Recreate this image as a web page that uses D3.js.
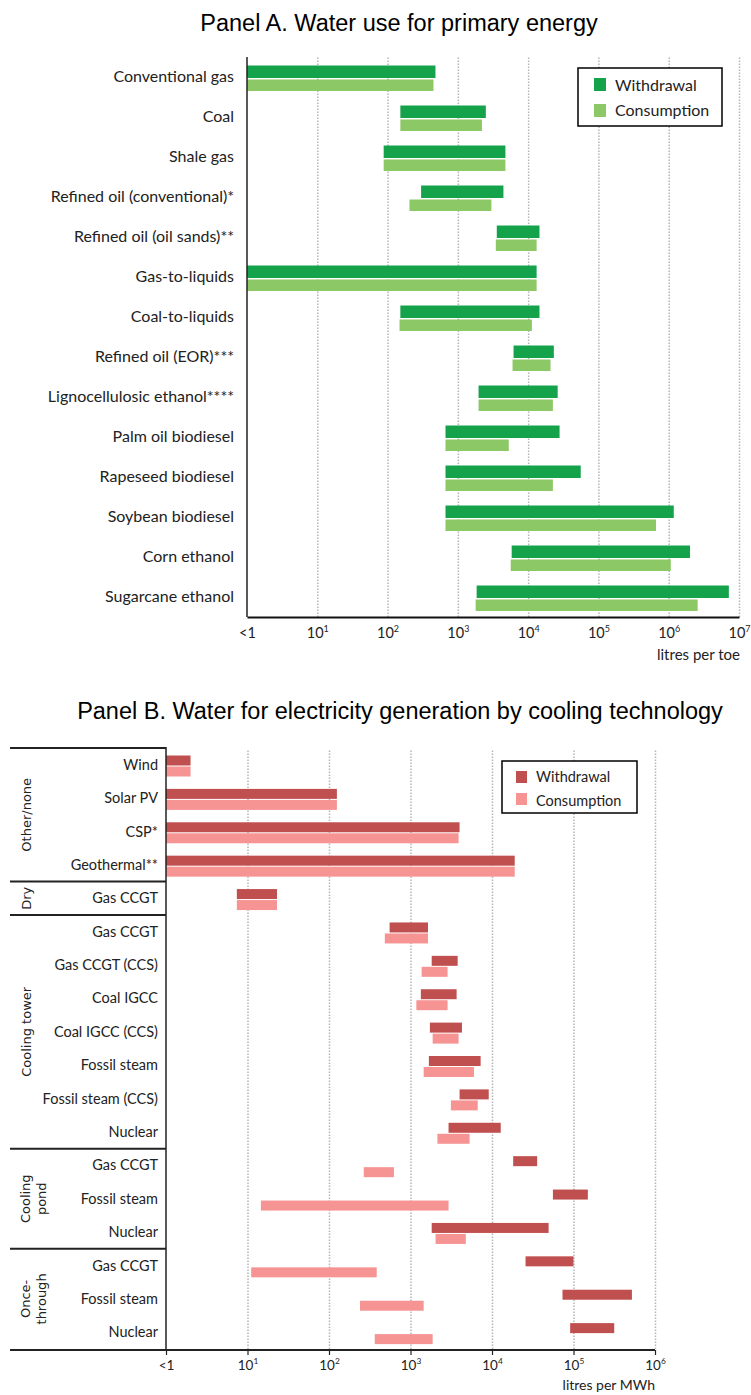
<!DOCTYPE html>
<html>
<head>
<meta charset="utf-8">
<script src="https://cdn.jsdelivr.net/npm/d3@7"></script>
<style>
  body { margin: 0; background: #fff; }
  svg { display: block; }
  text { fill: #222; }
</style>
</head>
<body>
<svg id="chart" width="751" height="1395"></svg>
<script>
// ---- Panel A data (litres per toe, [low, high]; 1 = "<1") ----
const aCategories = [
  'Conventional gas', 'Coal', 'Shale gas', 'Refined oil (conventional)*',
  'Refined oil (oil sands)**', 'Gas-to-liquids', 'Coal-to-liquids',
  'Refined oil (EOR)***', 'Lignocellulosic ethanol****', 'Palm oil biodiesel',
  'Rapeseed biodiesel', 'Soybean biodiesel', 'Corn ethanol', 'Sugarcane ethanol'
];
const aWithdrawal = [
  [1, 480], [152, 2500], [88, 4750], [300, 4450], [3580, 14500], [1, 13200],
  [152, 14500], [6200, 23200], [1970, 26300], [667, 28000], [667, 56000],
  [667, 1180000], [5830, 2010000], [1850, 7170000]
];
const aConsumption = [
  [1, 450], [152, 2200], [88, 4750], [205, 3000], [3470, 13200], [1, 13200],
  [148, 11300], [6000, 20800], [1970, 22500], [667, 5300], [667, 22500],
  [667, 659000], [5650, 1070000], [1790, 2580000]
];
const aTicks = [1, 1e1, 1e2, 1e3, 1e4, 1e5, 1e6, 1e7];

// ---- Panel B data (litres per MWh) ----
const bLabels = [
  'Wind', 'Solar PV', 'CSP*', 'Geothermal**',
  'Gas CCGT',
  'Gas CCGT', 'Gas CCGT (CCS)', 'Coal IGCC', 'Coal IGCC (CCS)', 'Fossil steam', 'Fossil steam (CCS)', 'Nuclear',
  'Gas CCGT', 'Fossil steam', 'Nuclear',
  'Gas CCGT', 'Fossil steam', 'Nuclear'
];
const bGroupOf = [0, 0, 0, 0, 1, 2, 2, 2, 2, 2, 2, 2, 3, 3, 3, 4, 4, 4];
const bGroupNames = [['Other/none'], ['Dry'], ['Cooling tower'], ['Cooling', 'pond'], ['Once-', 'through']];
const bWithdrawal = [
  [1, 2], [1, 125], [1, 4000], [1, 19000],
  [7.4, 23],
  [554, 1640], [1820, 3790], [1340, 3680], [1730, 4280], [1680, 7250], [4000, 9120], [2930, 12800],
  [18200, 35800], [55900, 150000], [1820, 49500],
  [25800, 100000], [73300, 521000], [91000, 316000]
];
const bConsumption = [
  [1, 2], [1, 125], [1, 3890], [1, 19000],
  [7.4, 23],
  [484, 1640], [1370, 2850], [1180, 2850], [1870, 3890], [1450, 6000], [3130, 6680], [2140, 5310],
  [267, 626], [14.6, 2930], [2030, 4770],
  [11.1, 385], [240, 1450], [364, 1870]
];
const bTicks = [1, 1e1, 1e2, 1e3, 1e4, 1e5, 1e6];

const svg = d3.select('#chart');
const bodyFont = 'Lato, "Open Sans", sans-serif';
const titleFont = 'Arial, "Liberation Sans", sans-serif';

// tick label with superscript exponent
const powerLabel = (sel, size) => {
  sel.each(function (d) {
    const t = d3.select(this);
    if (d === 1) { t.text('<1'); return; }
    t.append('tspan').text('10');
    t.append('tspan').attr('dy', -6).attr('font-size', size * 0.62).text(Math.round(Math.log10(d)));
  });
};

// ================= Panel A =================
{
  const top = 57, bottom = 617, left = 247, right = 739;
  const x = d3.scaleLog().domain([1, 1e7]).range([left, right]);
  const y = d3.scaleBand().domain(aCategories).range([top, bottom]);

  svg.append('text')
    .attr('x', 399).attr('y', 31)
    .attr('text-anchor', 'middle')
    .attr('font-family', titleFont)
    .attr('font-size', 23.5)
    .style('fill', '#000')
    .text('Panel A. Water use for primary energy');

  const grid = svg.append('g')
    .attr('transform', `translate(0,${ bottom })`)
    .call(d3.axisBottom(x).tickValues(aTicks.slice(1)).tickSize(-(bottom - top)).tickFormat(''));
  grid.select('.domain').remove();
  grid.selectAll('line').attr('stroke', '#b5b5b5').attr('stroke-width', 1.5).attr('stroke-dasharray', '1.5,1.5');

  const rows = svg.append('g');
  rows.selectAll('.w').data(aCategories).join('rect')
    .attr('x', (d, i) => x(aWithdrawal[i][0]))
    .attr('width', (d, i) => x(aWithdrawal[i][1]) - x(aWithdrawal[i][0]))
    .attr('y', d => y(d) + 8.5).attr('height', 12.5)
    .attr('fill', '#14a24b');
  rows.selectAll('.c').data(aCategories).join('rect')
    .attr('x', (d, i) => x(aConsumption[i][0]))
    .attr('width', (d, i) => x(aConsumption[i][1]) - x(aConsumption[i][0]))
    .attr('y', d => y(d) + 22.5).attr('height', 11.5)
    .attr('fill', '#8cc865');

  rows.selectAll('.lab').data(aCategories).join('text')
    .attr('x', left - 13).attr('y', d => y(d) + y.bandwidth() / 2 - 1)
    .attr('dy', '0.35em').attr('text-anchor', 'end')
    .attr('font-family', bodyFont).attr('font-size', 16)
    .text(d => d);

  svg.append('line').attr('x1', left).attr('x2', left).attr('y1', top).attr('y2', bottom)
    .attr('stroke', '#222').attr('stroke-width', 1.5);

  const axis = svg.append('g')
    .attr('transform', `translate(0,${ bottom })`)
    .call(d3.axisBottom(x).tickValues(aTicks).tickSize(0).tickFormat(''));
  axis.select('.domain').attr('stroke', '#111').attr('stroke-width', 2);
  axis.selectAll('.tick').append('text')
    .attr('y', 21).attr('text-anchor', 'middle')
    .attr('font-family', bodyFont).attr('font-size', 14.5)
    .call(powerLabel, 14.5);

  svg.append('text').attr('x', right + 1).attr('y', 660).attr('text-anchor', 'end')
    .attr('font-family', bodyFont).attr('font-size', 15).text('litres per toe');

  const lg = svg.append('g');
  lg.append('rect').attr('x', 578).attr('y', 68).attr('width', 144).attr('height', 58)
    .attr('fill', '#fff').attr('stroke', '#000').attr('stroke-width', 1.5);
  [['Withdrawal', '#14a24b'], ['Consumption', '#8cc865']].forEach(([name, col], i) => {
    lg.append('rect').attr('x', 594).attr('y', 78 + i * 26).attr('width', 12).attr('height', 13).attr('fill', col);
    lg.append('text').attr('x', 615).attr('y', 85 + i * 25).attr('dy', '0.35em')
      .attr('font-family', bodyFont).attr('font-size', 16).text(name);
  });
}

// ================= Panel B =================
{
  const top = 748, bottom = 1349, left = 166, right = 655, edge = 10;
  const x = d3.scaleLog().domain([1, 1e6]).range([left, right]);
  const y = d3.scaleBand().domain(d3.range(bLabels.length)).range([top, bottom]);

  svg.append('text')
    .attr('x', 400).attr('y', 719)
    .attr('text-anchor', 'middle')
    .attr('font-family', titleFont)
    .attr('font-size', 23.5)
    .style('fill', '#000')
    .text('Panel B. Water for electricity generation by cooling technology');

  const grid = svg.append('g')
    .attr('transform', `translate(0,${ bottom })`)
    .call(d3.axisBottom(x).tickValues(bTicks.slice(1)).tickSize(-(bottom - top - 2)).tickFormat(''));
  grid.select('.domain').remove();
  grid.selectAll('line').attr('stroke', '#b5b5b5').attr('stroke-width', 1.5).attr('stroke-dasharray', '1.5,1.5');

  const rows = svg.append('g');
  rows.selectAll('.w').data(bLabels).join('rect')
    .attr('x', (d, i) => x(bWithdrawal[i][0]))
    .attr('width', (d, i) => x(bWithdrawal[i][1]) - x(bWithdrawal[i][0]))
    .attr('y', (d, i) => y(i) + 7.5).attr('height', 10)
    .attr('fill', '#c0504f');
  rows.selectAll('.c').data(bLabels).join('rect')
    .attr('x', (d, i) => x(bConsumption[i][0]))
    .attr('width', (d, i) => x(bConsumption[i][1]) - x(bConsumption[i][0]))
    .attr('y', (d, i) => y(i) + 18.5).attr('height', 10)
    .attr('fill', '#f69494');

  rows.selectAll('.lab').data(bLabels).join('text')
    .attr('x', left - 8).attr('y', (d, i) => y(i) + y.bandwidth() / 2)
    .attr('dy', '0.35em').attr('text-anchor', 'end')
    .attr('font-family', bodyFont).attr('font-size', 14.5)
    .text(d => d);

  // group labels and separators
  const groups = bGroupNames.map((lines, g) => {
    const idx = bGroupOf.map((v, i) => v === g ? i : -1).filter(i => i >= 0);
    return { lines, y0: y(idx[0]), y1: y(idx[idx.length - 1]) + y.bandwidth() };
  });
  groups.forEach(g => {
    svg.append('line').attr('x1', edge).attr('x2', left).attr('y1', g.y0).attr('y2', g.y0)
      .attr('stroke', '#222').attr('stroke-width', 2);
    const cy = (g.y0 + g.y1) / 2;
    const baseX = g.lines.length === 1 ? 31 : 30;
    const t = svg.append('text')
      .attr('transform', `translate(${ baseX },${ cy }) rotate(-90)`)
      .attr('text-anchor', 'middle')
      .attr('font-family', '"DejaVu Sans", sans-serif').attr('font-size', 13);
    g.lines.forEach((ln, li) => {
      t.append('tspan').attr('x', 0).attr('dy', li === 0 ? 0 : 16).text(ln);
    });
  });

  svg.append('line').attr('x1', left).attr('x2', left).attr('y1', top - 1).attr('y2', bottom + 1)
    .attr('stroke', '#222').attr('stroke-width', 1.5);

  const axis = svg.append('g')
    .attr('transform', `translate(0,${ bottom + 1 })`)
    .call(d3.axisBottom(x).tickValues(bTicks).tickSize(5).tickFormat(''));
  axis.select('.domain').remove();
  axis.selectAll('.tick line').attr('stroke', '#222').attr('stroke-width', 1.2);
  axis.append('line').attr('x1', edge).attr('x2', right).attr('stroke', '#222').attr('stroke-width', 2);
  axis.selectAll('.tick').append('text')
    .attr('y', 20).attr('text-anchor', 'middle')
    .attr('font-family', bodyFont).attr('font-size', 13.5)
    .call(powerLabel, 13.5);

  svg.append('text').attr('x', right).attr('y', 1390).attr('text-anchor', 'end')
    .attr('font-family', bodyFont).attr('font-size', 14).text('litres per MWh');

  const lg = svg.append('g');
  lg.append('rect').attr('x', 502).attr('y', 761).attr('width', 135).attr('height', 52)
    .attr('fill', '#fff').attr('stroke', '#000').attr('stroke-width', 1.5);
  [['Withdrawal', '#c0504f'], ['Consumption', '#f69494']].forEach(([name, col], i) => {
    lg.append('rect').attr('x', 516).attr('y', 771 + i * 22).attr('width', 11).attr('height', 12).attr('fill', col);
    lg.append('text').attr('x', 536).attr('y', 776.5 + i * 24.5).attr('dy', '0.35em')
      .attr('font-family', bodyFont).attr('font-size', 14.5).text(name);
  });
}
</script>
</body>
</html>
